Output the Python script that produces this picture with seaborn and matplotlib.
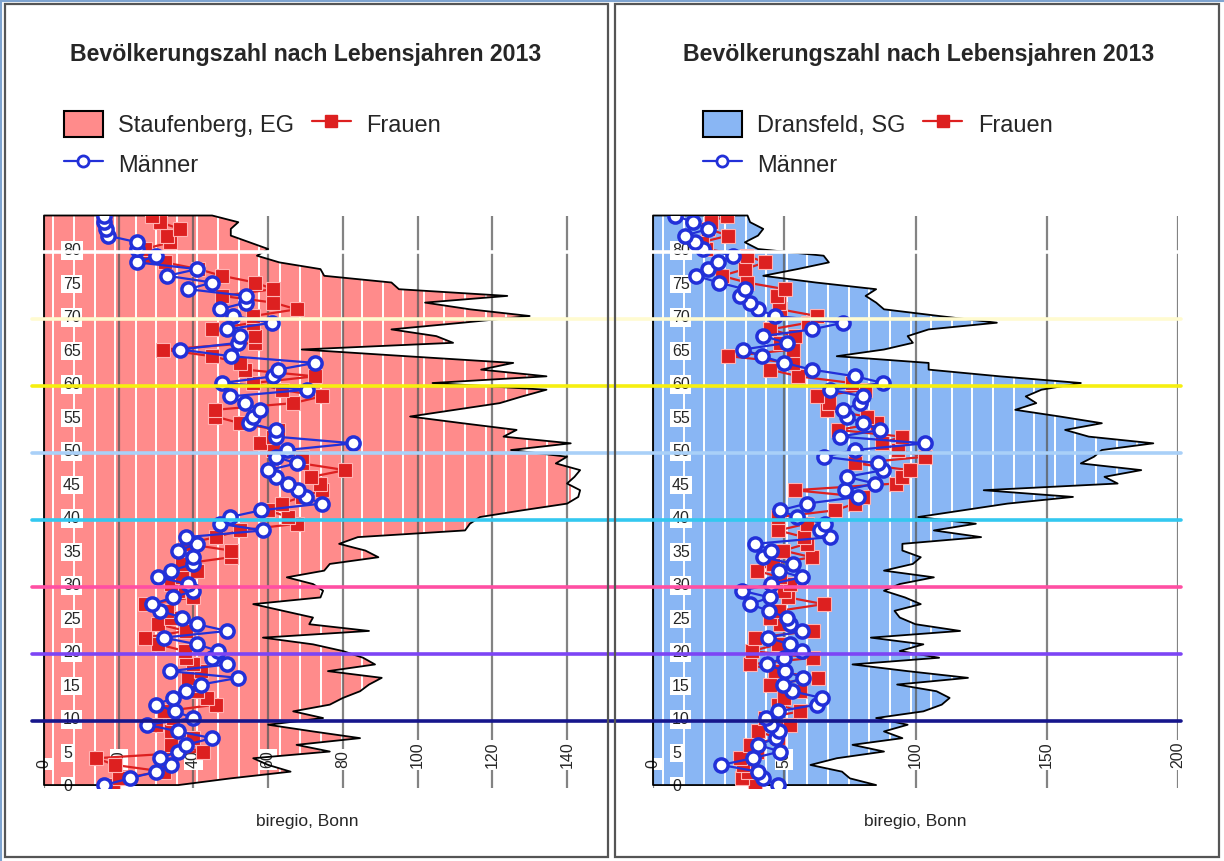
import numpy as np
import seaborn as sns
import matplotlib.pyplot as plt
from matplotlib import transforms
from matplotlib.patches import Rectangle, Patch
from matplotlib.lines import Line2D

sns.set_theme(style="white")
plt.rcParams['font.family'] = ['Liberation Sans', 'DejaVu Sans']

ages = list(range(86))

# Staufenberg, EG (Einwohner je Lebensjahr 0..85)
stauf_total = [36, 50, 66, 60, 56, 76.5, 67.6, 84.6, 72, 60,
               74.7, 66.7, 76.5, 80, 84.6, 87, 90.4, 76, 88.6, 85.4,
               80, 72, 58.6, 87, 71, 72, 64, 56, 74, 74.7,
               72, 65, 75, 76.5, 89.5, 86, 79, 84, 112.7, 114,
               116.7, 128, 140, 143, 143.5, 140, 142, 143.5, 137, 140,
               125, 141, 123, 126.5, 112, 98, 110, 122, 128, 134.5,
               104, 134.5, 117, 125.6, 97, 69, 109.5, 105, 93, 112,
               130, 114, 102, 124, 95, 93, 75, 74, 63, 57,
               60, 55, 50, 50, 52, 45]
stauf_frauen = [18.5, 20, 32, 19, 14, 42.6, 34, 40, 34, 30,
                34.6, 32, 46, 43.5, 41, 41, 38.6, 42, 40, 38,
                37.7, 30.6, 27, 38, 30.6, 34, 33, 27, 40, 36,
                34, 37, 41, 37, 50, 50, 38, 46, 52.5, 67.6,
                65.4, 60, 63.6, 69, 74.3, 73.9, 71.6, 80.6, 69, 69,
                61.4, 57.8, 61.4, 62.7, 52.5, 45.8, 45.8, 66.7, 74.3, 63.6,
                56, 72.5, 53.8, 52.5, 44.9, 31.9, 56.5, 56.5, 44.9, 56,
                56, 67.6, 61.4, 47.6, 61.4, 56.5, 47.6, 41.3, 32.4, 27,
                27, 33.7, 33, 36.4, 31, 28.8]
stauf_maenner = [16, 23, 30, 34, 31, 36, 38, 45, 36, 27.5,
                 40, 35, 30, 34.6, 38, 42, 52, 33.7, 49, 45,
                 46.7, 41, 32, 49, 41, 37, 31, 29, 34.6, 40,
                 38.6, 30.6, 34, 40, 40, 36, 41, 38, 58.7, 47,
                 49.8, 58, 74.3, 70, 68, 65.4, 62, 60, 67.6, 62,
                 65, 82.8, 62, 62, 55, 56, 57.8, 53.8, 49.8, 70.3,
                 47.6, 61.4, 62.7, 72.5, 50, 36.4, 52, 52.5, 49, 61,
                 50.7, 47, 54, 54, 38.6, 45, 33, 41, 25, 30,
                 25, 25, 17, 16.5, 16, 16]

# Dransfeld, SG
drans_total = [85, 75, 72, 60, 70, 88, 76, 95, 88, 97,
               85, 103, 110, 113, 108, 93, 120, 97, 76, 109,
               94, 103, 83, 117, 100, 94, 92, 102, 96, 88,
               94, 107, 88, 99, 102, 95, 95, 125, 107, 123,
               101, 118, 135, 160, 126, 177, 172, 186, 163, 168,
               171, 190.6, 166, 157, 171, 155, 138, 146, 142, 148,
               163, 132, 105, 105, 70, 88, 99, 97, 105, 131,
               109, 88, 85, 81, 85, 62, 42, 55, 67, 65,
               40, 35, 40, 42, 37, 36]
drans_frauen = [39, 34, 36, 34.4, 33, 39.5, 37, 47.7, 40, 52,
                42.7, 56, 47.7, 50, 56, 44.6, 63, 46.5, 37, 61,
                37.6, 47.7, 39, 61, 48.4, 44.6, 48, 65, 51.5, 50,
                52.2, 48.4, 39.5, 45.8, 60.4, 49.6, 58.5, 57.6, 47.7, 58.5,
                47.7, 69.3, 77, 80, 54, 92.5, 95, 97.9, 77, 103.6,
                93.5, 87.1, 94.7, 70.6, 85.2, 81.4, 66.1, 67, 62.4, 80.8,
                75.7, 55.4, 44.6, 53.5, 28.7, 53.5, 48.4, 54.1, 44.6, 59.2,
                62.4, 48.4, 48, 47.1, 50.3, 35.7, 26.2, 35, 42.7, 35.7,
                20, 18.5, 28.7, 21, 22, 28]
drans_maenner = [47.7, 42, 40, 26, 38, 48.4, 40, 47, 48, 45,
                 43, 47.7, 62.4, 64.3, 53, 49.6, 57.3, 50.3, 43.3, 50,
                 56.6, 52, 43.9, 56.6, 52, 50.9, 44, 37, 44.6, 33.8,
                 45, 56.6, 48, 53.5, 42, 45, 39, 67.4, 63.6, 65.5,
                 54.7, 48.4, 58.5, 78, 73, 84.6, 73.8, 87.7, 85.8, 65,
                 77, 103.6, 71.2, 86.5, 80, 73.8, 72.5, 78.9, 80, 67.4,
                 87.7, 77, 60.5, 50, 41.4, 34.4, 51, 42, 60.5, 72.5,
                 46.5, 40, 37, 33.1, 35, 25, 16.4, 21, 24.9, 30.6,
                 19, 16, 12.2, 21, 15.4, 8.4]

title = "Bevölkerungszahl nach Lebensjahren 2013"
source = "biregio, Bonn"
age_ticks = list(range(0, 81, 5))
stauf_ticks = [0, 20, 40, 60, 80, 100, 120, 140]
drans_ticks = [0, 50, 100, 150, 200]

# coloured marker lines between age groups
band_ages = [9.5, 19.5, 29.5, 39.5, 49.5, 59.5, 69.5, 79.5]
band_colors = ['#16168c', '#7d45f5', '#ff4fa3', '#33c8f0',
               '#a9d0f8', '#f6ef10', '#fffbd0', '#ffffff']

PINK = '#ff8b8b'
BLUE = '#89b6f4'
RED = '#dd2020'
MBLUE = '#2230d8'

W, H = 1224, 861
fig = plt.figure(figsize=(W / 100, H / 100), dpi=100)


def px_rect(x0, x1, y_top, y_bot):
    return [x0 / W, 1 - y_bot / H, (x1 - x0) / W, (y_bot - y_top) / H]


def draw_panel(ax, total, frauen, maenner, fill, xmax, ticks, stripe0, stripe_step):
    ax.set_xlim(0, xmax)
    ax.set_ylim(-0.5, 85)
    for s in ax.spines.values():
        s.set_visible(False)

    area = ax.fill_betweenx(ages, 0, total, facecolor=fill, edgecolor='none', zorder=1)
    stripes = ax.vlines(np.arange(stripe0, xmax, stripe_step), -1, 90,
                        colors='white', linewidth=1.4, zorder=2)
    stripes.set_clip_path(area.get_paths()[0], ax.transData)
    ax.fill_betweenx(ages, 0, total, facecolor='none', edgecolor='black',
                     linewidth=1.3, zorder=4, clip_on=False)

    ax.set_xticks(ticks)
    ax.set_yticks(age_ticks)
    ax.set_axisbelow(False)
    ax.grid(axis='x', color='#5a5a5a', linewidth=1.6, alpha=0.75)
    ax.grid(axis='y', visible=False)

    ax.tick_params(axis='x', length=0, pad=-14.5, labelrotation=90, labelsize=11.5)
    ax.tick_params(axis='y', length=0, pad=-13.7, labelsize=11.5)
    for lbl in ax.get_xticklabels():
        lbl.set_va('bottom')
        lbl.set_bbox(dict(facecolor='white', edgecolor='none', pad=1.2))
    for lbl in ax.get_yticklabels():
        lbl.set_ha('left')
        lbl.set_bbox(dict(facecolor='white', edgecolor='none', pad=1.2))

    sns.lineplot(x=frauen, y=ages, orient='y', estimator=None, ax=ax,
                 color=RED, linewidth=1.6, marker='s', markersize=10,
                 markeredgecolor='#ffb3b3', markeredgewidth=0.8, zorder=5)
    sns.lineplot(x=maenner, y=ages, orient='y', estimator=None, ax=ax,
                 color=MBLUE, linewidth=1.6, marker='o', markersize=9.5,
                 markerfacecolor='white', markeredgecolor=MBLUE,
                 markeredgewidth=2.5, zorder=6)
    ax.set_xlabel('')
    ax.set_ylabel('')
    ax.text(0.5, -0.0586, source, transform=ax.transAxes, ha='center',
            va='center', fontsize=12.5)


ax_l = fig.add_axes(px_rect(44, 44 + 141 * 3.736, 215.5, 788.4))
ax_r = fig.add_axes(px_rect(653, 1178, 215.5, 788.4))

draw_panel(ax_l, stauf_total, stauf_frauen, stauf_maenner, PINK, 141,
           stauf_ticks, 2.5, 5.51)
draw_panel(ax_r, drans_total, drans_frauen, drans_maenner, BLUE, 200,
           drans_ticks, 3.9, 7.85)

# horizontal age-group lines spanning both panels
trans = transforms.blended_transform_factory(fig.transFigure, ax_l.transData)
for a, c in zip(band_ages, band_colors):
    fig.add_artist(Line2D([32 / W, 1181 / W], [a, a], transform=trans,
                          color=c, linewidth=2.6, zorder=10))

# panel frames
for x0, x1 in [(5, 608), (615, 1219)]:
    fig.add_artist(Rectangle((x0 / W, 1 - 857 / H), (x1 - x0) / W, 853 / H,
                             transform=fig.transFigure, fill=False,
                             edgecolor='#555555', linewidth=1.6, zorder=11))
fig.add_artist(Line2D([0.0008, 0.0008], [0, 1], transform=fig.transFigure,
                      color='#7fa4d0', linewidth=1.5))
fig.add_artist(Line2D([0, 1], [0.9993, 0.9993], transform=fig.transFigure,
                      color='#7fa4d0', linewidth=1.5))

# titles and legends
for cx, lx, name, fill in [(306, 64, 'Staufenberg, EG', PINK),
                           (919, 703, 'Dransfeld, SG', BLUE)]:
    fig.text(cx / W, 1 - 55 / H, title, ha='center', va='center',
             fontsize=16.7, fontweight='bold')
    handles = [
        Patch(facecolor=fill, edgecolor='black', linewidth=1.5),
        Line2D([], [], color=MBLUE, linewidth=1.6, marker='o', markersize=8,
               markerfacecolor='white', markeredgecolor=MBLUE, markeredgewidth=2),
        Line2D([], [], color=RED, linewidth=1.6, marker='s', markersize=9),
    ]
    fig.legend(handles, [name, 'Männer', 'Frauen'], ncol=2, loc='upper left',
               bbox_to_anchor=(lx / W, 1 - 111 / H), frameon=False,
               fontsize=17, handlelength=1.65, handleheight=1.3,
               handletextpad=0.65, columnspacing=0.75, labelspacing=0.6,
               borderpad=0, borderaxespad=0)

fig.savefig('out.png', dpi=100)
